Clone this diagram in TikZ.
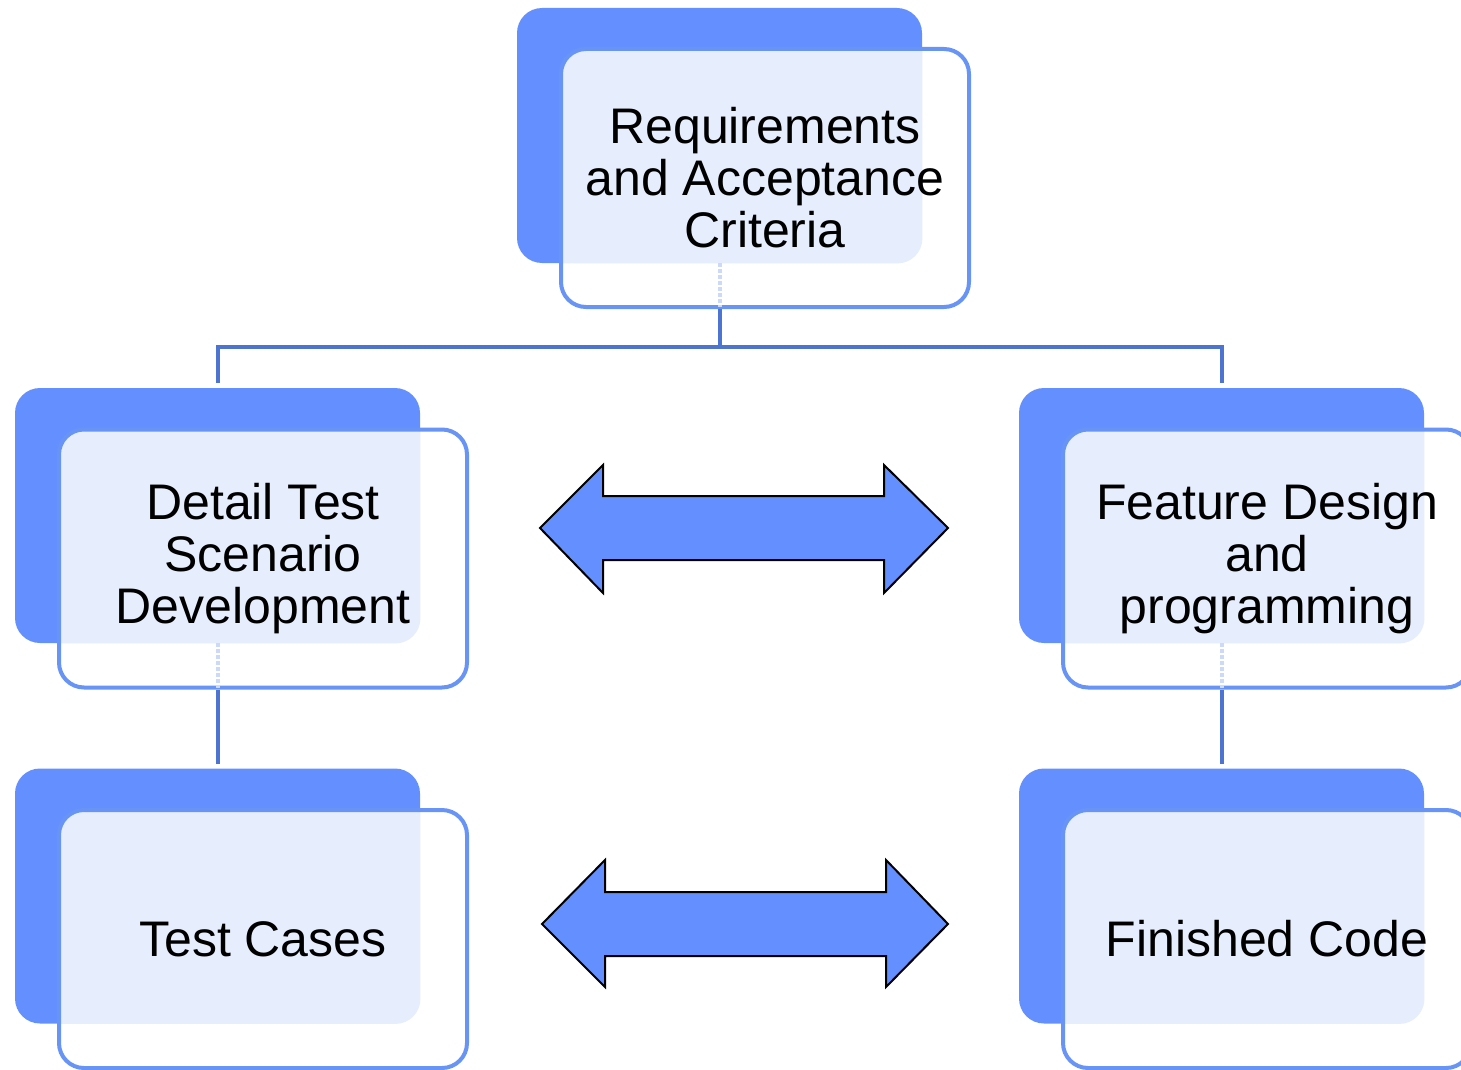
\documentclass[tikz,border=0pt]{standalone}
\usepackage{fontspec}
\setmainfont{Liberation Sans}
\definecolor{backblue}{RGB}{100,144,255}
\definecolor{edgeblue}{RGB}{104,148,245}
\definecolor{tintblue}{RGB}{230,237,252}
\definecolor{connblue}{RGB}{78,116,210}
\definecolor{ghostblue}{RGB}{205,217,248}
\tikzset{
  backcard/.style={rectangle, rounded corners=12.5pt, fill=backblue,
    minimum width=202.5pt, minimum height=127.5pt, inner sep=0pt},
  frontcard/.style={rectangle, rounded corners=12.5pt, fill=white, draw=edgeblue,
    line width=2pt, minimum width=204pt, minimum height=129pt, inner sep=0pt,
    align=center, font=\fontsize{25}{26}\selectfont,
    path picture={\fill[tintblue, rounded corners=12.5pt] (#1.south west) rectangle (#1.north east);}},
  conn/.style={draw=connblue, line width=2pt},
  ghostline/.style={draw=ghostblue, line width=2pt, dash pattern=on 2pt off 1pt},
  dblarrow/.style={fill=backblue, draw=black, line width=1pt, line join=miter}
}
\begin{document}
\begin{tikzpicture}[x=0.5pt, y=-0.5pt]
\path[use as bounding box] (0,0) rectangle (1461,1070);
\clip (0,0) rectangle (1461,1070);
\node[backcard] (b1) at (719.5,135.5) {};
\node[backcard] (b2) at (217.5,515.5) {};
\node[backcard] (b3) at (1221.5,515.5) {};
\node[backcard] (b4) at (217.5,896) {};
\node[backcard] (b5) at (1221.5,896) {};
\node[frontcard=b1] (f1) at (765,178) {Requirements\\and Acceptance\\Criteria};
\node[frontcard=b2] (f2) at (263,558.5) {Detail Test\\Scenario\\Development};
\node[frontcard=b3] (f3) at (1267,558.5) {Feature Design\\and\\programming};
\node[frontcard=b4] (f4) at (263,939) {Test Cases};
\node[frontcard=b5] (f5) at (1267,939) {Finished Code};
% faint continuation of the connectors inside the front cards
\draw[ghostline] (b1.south) -- ([yshift=1pt]b1.south |- f1.south);
\draw[ghostline] (b2.south) -- ([yshift=1pt]b2.south |- f2.south);
\draw[ghostline] (b3.south) -- ([yshift=1pt]b3.south |- f3.south);
% connectors
\coordinate (j) at (719.5,347);
\draw[conn] (b1.south |- f1.south) -- (j);
\draw[conn] (j) -| ([yshift=2.5pt]b2.north);
\draw[conn] (j) -| ([yshift=2.5pt]b3.north);
\draw[conn] (b2.south |- f2.south) -- ([yshift=2pt]b4.north);
\draw[conn] (b3.south |- f3.south) -- ([yshift=2pt]b5.north);
% double arrows
\draw[dblarrow] (540,528) -- (603,465) -- (603,496) -- (884,496) -- (884,465) -- (948,528)
  -- (884,593) -- (884,560) -- (603,560) -- (603,593) -- cycle;
\draw[dblarrow] (542,924) -- (605,860) -- (605,892) -- (886,892) -- (886,860) -- (948,924)
  -- (886,987) -- (886,956) -- (605,956) -- (605,987) -- cycle;
\end{tikzpicture}
\end{document}
